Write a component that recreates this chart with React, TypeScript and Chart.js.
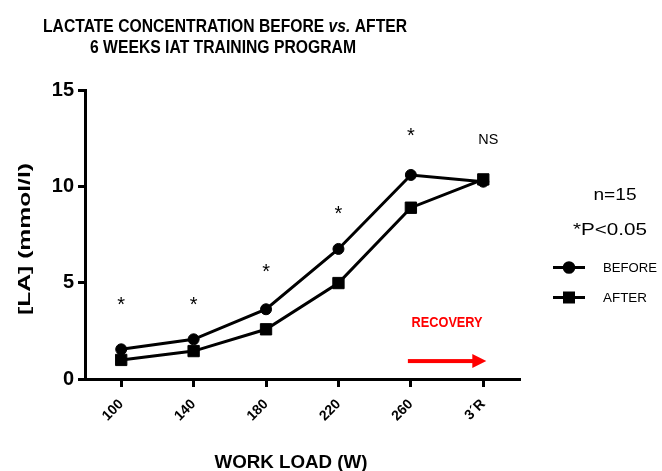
import React, { useEffect, useRef } from 'react';
import { Chart, registerables } from 'chart.js';

Chart.register(...registerables);

// ---- data ----
const workLoadLabels = ['100', '140', '180', '220', '260', '3´R'];
const beforeValues = [1.54, 2.06, 3.62, 6.75, 10.59, 10.24];
const afterValues = [0.99, 1.45, 2.58, 4.98, 8.89, 10.36];
const significanceMarks = ['*', '*', '*', '*', '*', 'NS'];
const significanceLevels = [4.05, 4.05, 5.76, 8.77, 12.82, 12.45];
const yTickValues = [0, 5, 10, 15];
const seriesNames = ['BEFORE', 'AFTER'];
const titleLine1: [string, boolean][] = [
  ['LACTATE CONCENTRATION BEFORE ', false],
  ['vs.', true],
  [' AFTER', false],
];
const titleLine2 = '6 WEEKS IAT TRAINING PROGRAM';
const yAxisTitle = '[LA] (mmol/l)';
const xAxisTitle = 'WORK LOAD (W)';
const noteLines = ['n=15', '*P<0.05'];
const recoveryLabel = 'RECOVERY';
const recoverySpan = [4, 5];
const recoveryTextLevel = 2.98;
const recoveryArrowLevel = 0.93;

const FONT = '"Liberation Sans", Arial, Helvetica, sans-serif';

function drawFitted(
  ctx: CanvasRenderingContext2D,
  text: string,
  cx: number,
  cy: number,
  font: string,
  width: number | null,
  color = '#000',
  align: 'center' | 'left' = 'center'
) {
  ctx.save();
  ctx.font = font;
  const m = ctx.measureText(text);
  const sx = width ? width / m.width : 1;
  const asc = m.actualBoundingBoxAscent;
  const desc = m.actualBoundingBoxDescent;
  const by = cy + (asc - desc) / 2;
  const left = align === 'center' ? cx - (m.width * sx) / 2 : cx;
  ctx.translate(left, by);
  ctx.scale(sx, 1);
  ctx.fillStyle = color;
  ctx.textAlign = 'left';
  ctx.textBaseline = 'alphabetic';
  ctx.fillText(text, 0, 0);
  ctx.restore();
}

const annotationPlugin = {
  id: 'annotations',
  afterDatasetsDraw(chart: any) {
    const ctx: CanvasRenderingContext2D = chart.ctx;
    const xs = chart.scales.x;
    const ys = chart.scales.y;

    // Title
    ctx.save();
    const tFont = `bold 18px ${FONT}`;
    const tItal = `italic bold 18px ${FONT}`;
    let total = 0;
    const widths = titleLine1.map(([t, it]) => {
      ctx.font = it ? tItal : tFont;
      const w = ctx.measureText(t).width;
      total += w;
      return w;
    });
    ctx.font = tFont;
    const capH = ctx.measureText('L').actualBoundingBoxAscent;
    const sx1 = 364 / total;
    ctx.translate(225 - (total * sx1) / 2, 25.5 + capH / 2);
    ctx.scale(sx1, 1);
    ctx.fillStyle = '#000';
    ctx.textBaseline = 'alphabetic';
    ctx.textAlign = 'left';
    let px = 0;
    titleLine1.forEach(([t, it], i) => {
      ctx.font = it ? tItal : tFont;
      ctx.fillText(t, px, 0);
      px += widths[i];
    });
    ctx.restore();
    drawFitted(ctx, titleLine2, 223, 46.5, tFont, 266);

    // Y axis title
    ctx.save();
    ctx.translate(25, 239);
    ctx.rotate(-Math.PI / 2);
    drawFitted(ctx, yAxisTitle, 0, 0, `bold 17px ${FONT}`, 152);
    ctx.restore();

    // X axis title
    drawFitted(ctx, xAxisTitle, 291, 463, `bold 19px ${FONT}`, 153);

    // significance marks
    significanceMarks.forEach((mark, i) => {
      const x = xs.getPixelForValue(i);
      const y = ys.getPixelForValue(significanceLevels[i]);
      if (mark === '*') {
        drawFitted(ctx, mark, x, y, `20px ${FONT}`, null);
      } else {
        drawFitted(ctx, mark, x + 5, y, `15px ${FONT}`, 20);
      }
    });

    // Recovery annotation
    const xa = xs.getPixelForValue(recoverySpan[0]) - 3;
    const xb = xs.getPixelForValue(recoverySpan[1]) + 3;
    const ty = ys.getPixelForValue(recoveryTextLevel);
    drawFitted(ctx, recoveryLabel, (xa + xb) / 2, ty, `bold 15px ${FONT}`, 71, '#ff0000');
    const ay = ys.getPixelForValue(recoveryArrowLevel);
    ctx.save();
    ctx.fillStyle = '#ff0000';
    ctx.fillRect(xa, ay - 2, xb - 14 - xa + 1, 4);
    ctx.beginPath();
    ctx.moveTo(xb - 14, ay - 7);
    ctx.lineTo(xb, ay);
    ctx.lineTo(xb - 14, ay + 7);
    ctx.closePath();
    ctx.fill();
    ctx.restore();

    // Notes
    drawFitted(ctx, noteLines[0], 615, 194, `16px ${FONT}`, 43);
    drawFitted(ctx, noteLines[1], 610, 229, `16px ${FONT}`, 74);

    // Legend
    const legendY = [267.5, 297.5];
    chart.data.datasets.forEach((ds: any, i: number) => {
      const y = legendY[i];
      ctx.save();
      ctx.strokeStyle = '#000';
      ctx.lineWidth = 3;
      ctx.beginPath();
      ctx.moveTo(553, y);
      ctx.lineTo(585, y);
      ctx.stroke();
      ctx.fillStyle = '#000';
      if (ds.pointStyle === 'rect') {
        ctx.fillRect(569 - 6, y - 6, 12, 12);
      } else {
        ctx.beginPath();
        ctx.arc(569, y, 6.3, 0, Math.PI * 2);
        ctx.fill();
      }
      ctx.restore();
      drawFitted(ctx, ds.label, 603, y, `13px ${FONT}`, i === 0 ? 54 : 44, '#000', 'left');
    });
  },
};

export default function App() {
  const canvasRef = useRef<HTMLCanvasElement | null>(null);

  useEffect(() => {
    const canvas = canvasRef.current;
    if (!canvas) return;
    const axisGrid = {
      display: true,
      drawOnChartArea: false,
      drawTicks: true,
      tickLength: 7,
      color: '#000',
      lineWidth: 3,
    };
    const chart = new Chart(canvas, {
      type: 'line',
      data: {
        labels: workLoadLabels,
        datasets: [
          {
            label: seriesNames[0],
            data: beforeValues,
            borderColor: '#000',
            backgroundColor: '#000',
            borderWidth: 3,
            pointStyle: 'circle',
            pointRadius: 5.5,
            pointBorderWidth: 1,
            pointBackgroundColor: '#000',
            pointBorderColor: '#000',
            tension: 0,
            fill: false,
            order: 1,
          },
          {
            label: seriesNames[1],
            data: afterValues,
            borderColor: '#000',
            backgroundColor: '#000',
            borderWidth: 3,
            pointStyle: 'rect',
            pointRadius: 8,
            pointBorderWidth: 1,
            pointBackgroundColor: '#000',
            pointBorderColor: '#000',
            tension: 0,
            fill: false,
            order: 0,
          },
        ],
      },
      options: {
        animation: false,
        responsive: false,
        devicePixelRatio: 1,
        layout: { padding: { top: 90, right: 142.5, left: 0, bottom: 0 } },
        plugins: {
          legend: { display: false },
          title: { display: false },
          tooltip: { enabled: false },
        },
        scales: {
          x: {
            type: 'category',
            offset: true,
            grid: { ...axisGrid, tickLength: 8 },
            border: { display: true, color: '#000', width: 3 },
            ticks: {
              color: '#000',
              font: { family: FONT, size: 14, weight: 'bold' },
              maxRotation: 45,
              minRotation: 45,
              padding: 9,
              autoSkip: false,
            },
            afterFit: (s: any) => {
              s.height = 92;
            },
          },
          y: {
            type: 'linear',
            min: 0,
            max: 15,
            afterBuildTicks: (s: any) => {
              s.ticks = yTickValues.map((v) => ({ value: v }));
            },
            grid: axisGrid,
            border: { display: true, color: '#000', width: 3 },
            ticks: {
              color: '#000',
              font: { family: FONT, size: 20, weight: 'bold' },
              padding: 4,
            },
            afterFit: (s: any) => {
              s.width = 85;
            },
          },
        },
      } as any,
      plugins: [annotationPlugin],
    });
    return () => chart.destroy();
  }, []);

  return (
    <div style={{ position: 'absolute', left: 0, top: 0, width: 662, height: 471, background: '#fff' }}>
      <canvas ref={canvasRef} width={662} height={471} style={{ width: 662, height: 471 }} />
    </div>
  );
}
